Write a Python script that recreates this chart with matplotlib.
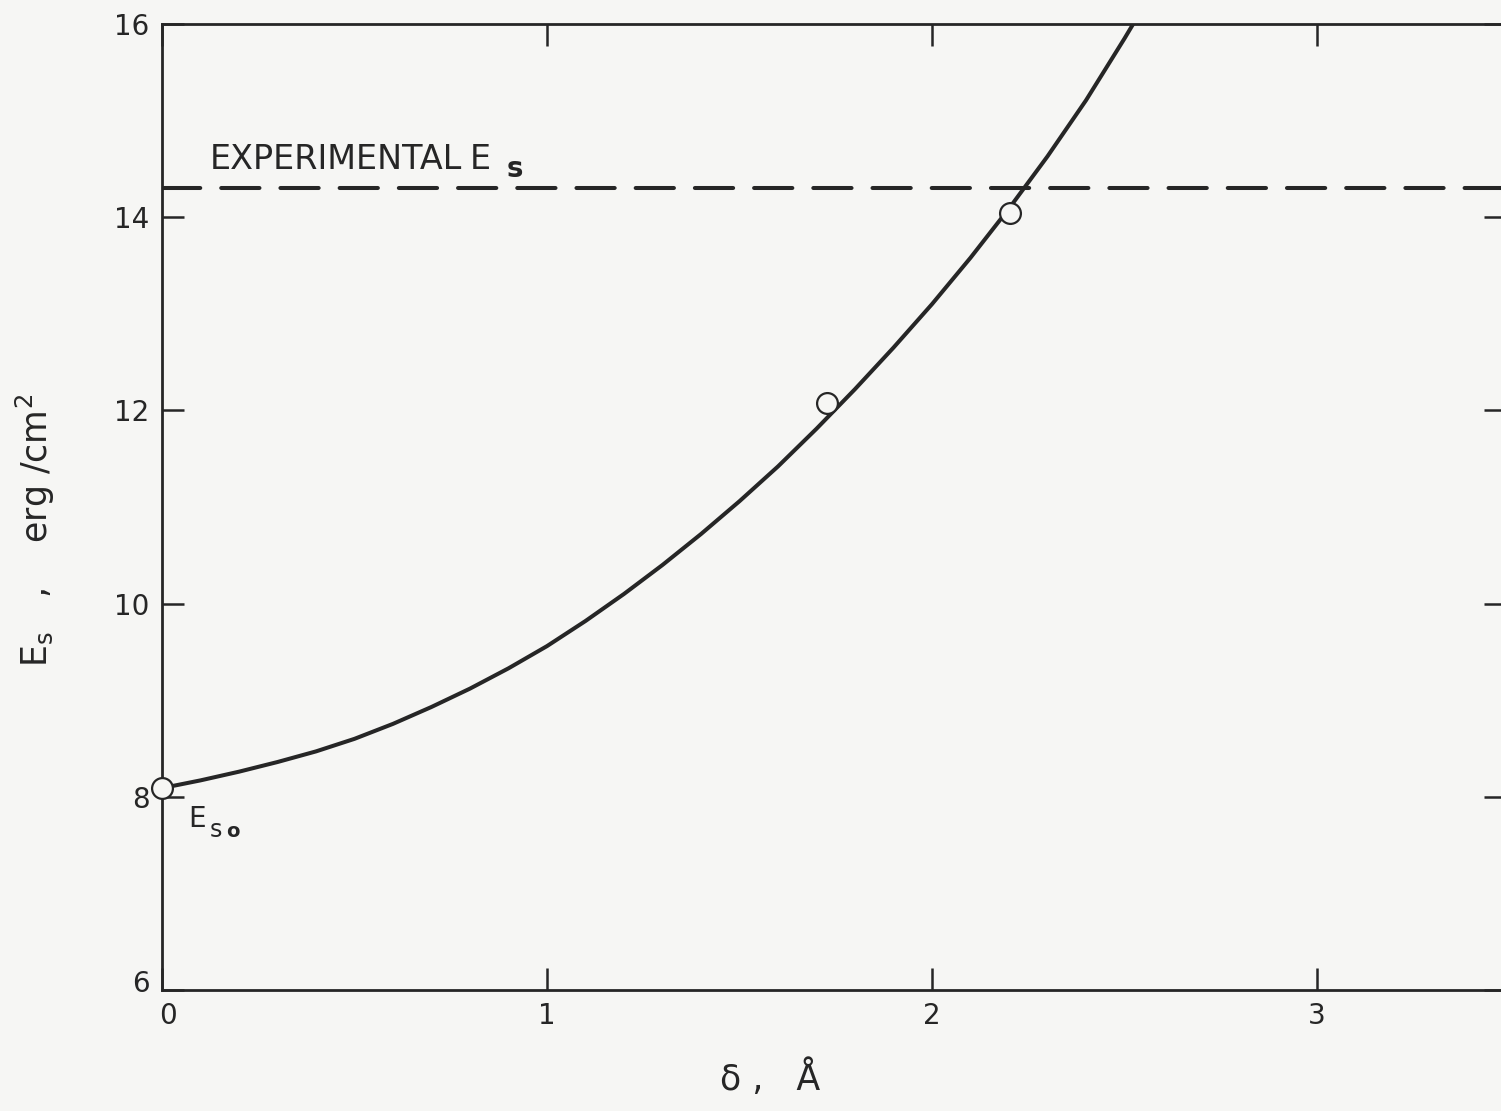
# -*- coding: utf-8 -*-
# Surface energy E_s versus relaxation delta, with experimental value.

import numpy as np
import matplotlib.pyplot as plt
from matplotlib.transforms import ScaledTranslation

# curve (delta in A, E_s in erg/cm^2)
curve_delta = [0.0, 0.1, 0.2, 0.3, 0.4, 0.5, 0.6, 0.7, 0.8, 0.9, 1.0,
               1.1, 1.2, 1.3, 1.4, 1.5, 1.6, 1.7, 1.8, 1.9, 2.0,
               2.1, 2.2, 2.3, 2.4, 2.5, 2.53]
curve_es = [8.09, 8.17, 8.26, 8.36, 8.47, 8.60, 8.755, 8.93, 9.12, 9.33, 9.56,
            9.82, 10.10, 10.40, 10.72, 11.06, 11.42, 11.81, 12.22, 12.65, 13.10,
            13.58, 14.09, 14.63, 15.21, 15.85, 16.05]

# computed points (open circles)
point_delta = [0.0, 1.727, 2.203]
point_es = [8.09, 12.08, 14.04]

experimental_es = 14.30

x_ticks = [0, 1, 2, 3]
x_ticklabels = ["0", "1", "2", "3"]
y_ticks = [6, 8, 10, 12, 14, 16]
y_ticklabels = ["6", "8", "10", "12", "14", "16"]

ink = "#262626"
paper = "#f6f6f4"

plt.rcParams['font.family'] = ['DejaVu Sans']
plt.rcParams['mathtext.fontset'] = 'dejavusans'

W, H = 1501, 1111
fig = plt.figure(figsize=(W / 100.0, H / 100.0), dpi=100)
fig.patch.set_facecolor(paper)

# axes placed in pixels: 385 px per unit in x, 96.6 px per unit in y
x_max = 3.49
left_px, bottom_px, top_px = 162, 990, 24
width_px = x_max * 385.0
ax = fig.add_axes([left_px / W, (H - bottom_px) / H,
                   width_px / W, (bottom_px - top_px) / H])
ax.set_facecolor(paper)

ax.set_xlim(0, x_max)
ax.set_ylim(6, 16)

ax.plot(curve_delta, curve_es, color=ink, lw=2.9, solid_capstyle='round', zorder=3)
ax.plot(point_delta, point_es, 'o', ms=15, mew=1.6, mfc=paper, mec=ink,
        clip_on=False, zorder=4)

ax.axhline(experimental_es, color=ink, lw=2.9, dashes=(9.5, 5.2),
           dash_capstyle='round', zorder=2)

for s in ax.spines.values():
    s.set_linewidth(2.0)
    s.set_color(ink)

ax.set_xticks(x_ticks)
ax.set_xticklabels(x_ticklabels)
ax.set_yticks(y_ticks)
ax.set_yticklabels(y_ticklabels)
ax.tick_params(direction='in', length=16, width=1.8, color=ink,
               labelsize=20, labelcolor=ink, pad=9,
               top=True, right=True)

# corner labels sit a little off their ticks in the drawing
lab0 = ax.get_xticklabels()[0]
lab0.set_transform(lab0.get_transform() + ScaledTranslation(0.06, 0, fig.dpi_scale_trans))
lab6 = ax.get_yticklabels()[0]
lab6.set_transform(lab6.get_transform() + ScaledTranslation(0, 0.09, fig.dpi_scale_trans))

# experimental label
ax.text(0.125, 14.50, "EXPERIMENTAL", fontsize=24, color=ink,
        ha='left', va='baseline')
ax.text(0.80, 14.50, "E", fontsize=24, color=ink, ha='left', va='baseline')
ax.text(0.896, 14.415, "s", fontsize=20, fontweight='bold', color=ink,
        ha='left', va='baseline')

# E_so label next to the first point
ax.text(0.0675, 7.687, "E", fontsize=20, color=ink, ha='left', va='baseline')
ax.text(0.125, 7.584, "s", fontsize=17, color=ink, ha='left', va='baseline')
ax.text(0.167, 7.584, "o", fontsize=14, fontweight='bold', color=ink,
        ha='left', va='baseline')

ax.set_xlabel("δ ,   Å", fontsize=25, color=ink)
ax.set_ylabel(r"E$_\mathregular{s}$   ,    erg /cm$^\mathregular{2}$", fontsize=25,
              color=ink)
ax.xaxis.set_label_coords((770 - left_px) / width_px, -0.072)
ax.yaxis.set_label_coords(-0.078, (990 - 530) / 966.0)

plt.savefig("out.png", dpi=100, facecolor=paper)
